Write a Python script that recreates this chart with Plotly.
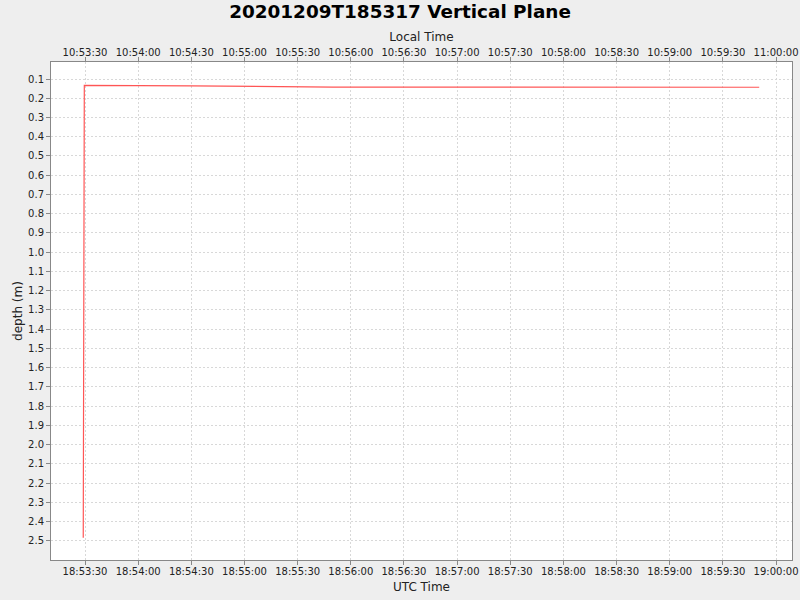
import plotly.graph_objects as go
import pandas as pd

# data (UTC times, depth in m)
utc_times = ["2020-12-09 18:53:29.0", "2020-12-09 18:53:29.6", "2020-12-09 18:54:30.0",
             "2020-12-09 18:55:15.0", "2020-12-09 18:55:50.0", "2020-12-09 18:57:30.0",
             "2020-12-09 18:59:50.5"]
depths = [2.483, 0.133, 0.136, 0.139, 0.142, 0.142, 0.143]
utc_offset_hours = -8
title_text = "20201209T185317 Vertical Plane"

utc = pd.to_datetime(utc_times, format="ISO8601")
local = utc + pd.Timedelta(hours=utc_offset_hours)

x_range_utc = [pd.Timestamp("2020-12-09 18:53:10.8"), pd.Timestamp("2020-12-09 19:00:09")]
x_range_local = [t + pd.Timedelta(hours=utc_offset_hours) for t in x_range_utc]

fig = go.Figure()
fig.add_trace(go.Scatter(x=utc, y=depths, mode="lines",
                         line=dict(color="#ff5555", width=1.2), showlegend=False,
                         hoverinfo="skip"))
fig.add_trace(go.Scatter(x=local, y=depths, mode="lines", xaxis="x2",
                         line=dict(color="rgba(0,0,0,0)", width=0), showlegend=False,
                         hoverinfo="skip"))

font_family = "DejaVu Sans"
tickfont = dict(family=font_family, size=10, color="#222222")
titlefont = dict(family=font_family, size=12, color="#222222")
grid_color = "#d8d8d8"

fig.update_layout(
    width=800, height=600,
    paper_bgcolor="#eeeeee", plot_bgcolor="white",
    margin=dict(l=51, r=8, t=62, b=40, autoexpand=False),
    title=dict(text=f"<b>{title_text}</b>", x=0.5, xanchor="center",
               y=1 - 12 / 600, yanchor="middle",
               font=dict(family=font_family, size=18.4, color="black")),
    xaxis=dict(
        range=x_range_utc, type="date", tickformat="%H:%M:%S", dtick=30000,
        tick0="2020-12-09 18:53:30", automargin=False,
        showgrid=True, gridcolor=grid_color, griddash="2px,2px", gridwidth=1,
        ticks="outside", ticklen=4, tickcolor="#888888",
        showline=True, linecolor="#888888", linewidth=1,
        tickfont=tickfont, zeroline=False, ticklabelstandoff=-2,
        title=dict(text="UTC Time", font=titlefont, standoff=6),
    ),
    xaxis2=dict(
        range=x_range_local, type="date", tickformat="%H:%M:%S", dtick=30000,
        tick0="2020-12-09 10:53:30", automargin=False,
        overlaying="x", side="top", showgrid=False,
        ticks="outside", ticklen=4, tickcolor="#888888",
        showline=True, linecolor="#888888", linewidth=1,
        tickfont=tickfont, zeroline=False, ticklabelstandoff=-3,
        title=dict(text="Local Time", font=titlefont, standoff=2),
    ),
    yaxis=dict(
        range=[2.599, 0.0117], tickmode="array", automargin=False,
        tickvals=[round(0.1 * i, 1) for i in range(1, 26)],
        tickformat=".1f",
        showgrid=True, gridcolor=grid_color, griddash="2px,2px", gridwidth=1,
        ticks="outside", ticklen=4, tickcolor="#888888",
        showline=True, linecolor="#888888", linewidth=1, mirror=True,
        tickfont=tickfont, zeroline=False,
        title=dict(text="depth (m)", font=titlefont, standoff=2),
    ),
)

fig.write_html("out.html", config={"displayModeBar": False},
               post_script="document.body.style.margin='0';document.body.style.overflow='hidden';")
